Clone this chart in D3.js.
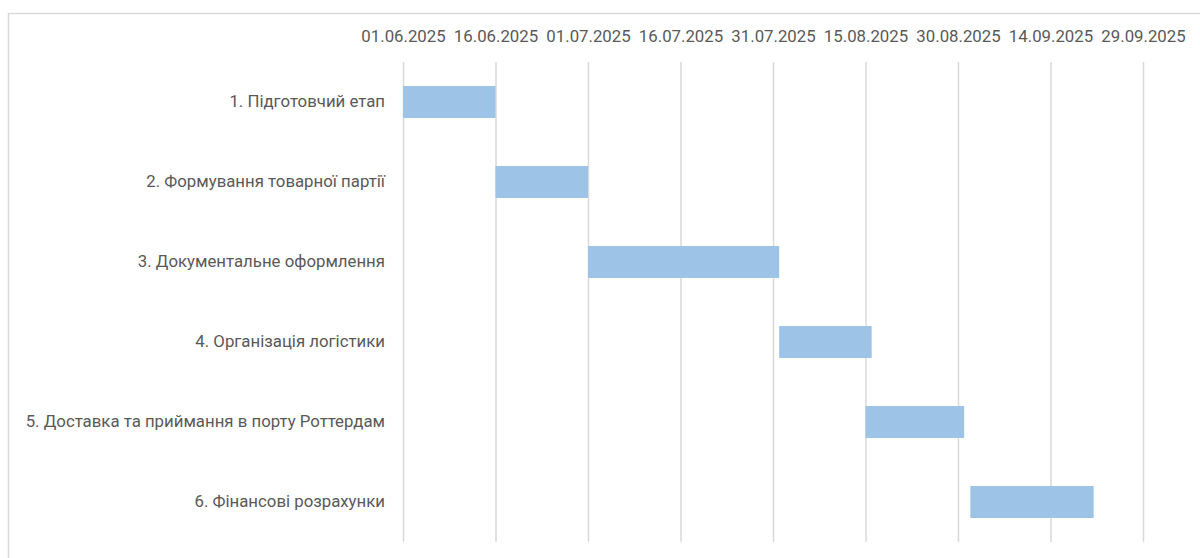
<!DOCTYPE html>
<html>
<head>
<meta charset="utf-8">
<script src="https://cdn.jsdelivr.net/npm/d3@7"></script>
<style>
  body { margin: 0; background: #fff; }
  text { font-family: Roboto, "Noto Sans", sans-serif; fill: #595959; }
</style>
</head>
<body>
<div id="chart-area"></div>
<script>
// tasks and their dates
var tasks = [
    "1. Підготовчий етап",
    "2. Формування товарної партії",
    "3. Документальне оформлення",
    "4. Організація логістики",
    "5. Доставка та приймання в порту Роттердам",
    "6. Фінансові розрахунки"
];
var startDates = ["01.06.2025", "16.06.2025", "01.07.2025", "01.08.2025", "15.08.2025", "01.09.2025"];
var endDates   = ["16.06.2025", "01.07.2025", "01.08.2025", "16.08.2025", "31.08.2025", "21.09.2025"];
var tickLabels = ["01.06.2025", "16.06.2025", "01.07.2025", "16.07.2025", "31.07.2025",
                  "15.08.2025", "30.08.2025", "14.09.2025", "29.09.2025"];

var W = 1200, H = 558;
var margin = {top: 62, left: 403, right: 57, bottom: 16};
var width = W - margin.left - margin.right;
var height = H - margin.top - margin.bottom;

var parse = d3.utcParse("%d.%m.%Y");
var fmt = d3.utcFormat("%d.%m.%Y");

var data = tasks.map((t, i) => {
    return {task: t, start: parse(startDates[i]), end: parse(endDates[i])};
});
var ticks = tickLabels.map(parse);

var svg = d3.select('#chart-area')
    .append('svg')
        .attr('width', W)
        .attr('height', H);

// chart border
svg.append("rect")
    .attr("x", 8.5)
    .attr("y", 13.5)
    .attr("width", W)
    .attr("height", H)
    .attr("fill", "none")
    .attr("stroke", "#d9d9d9")
    .attr("stroke-width", 1.5);

var g = svg.append("g")
    .attr("transform", "translate(" + margin.left + ", " + margin.top + ")");

var x = d3.scaleUtc()
    .domain([ticks[0], ticks[ticks.length - 1]])
    .range([0, width]);

var y = d3.scaleBand()
    .domain(tasks)
    .range([0, height])
    .paddingInner(0.6)
    .paddingOuter(0.3);

// gridlines
g.append("g")
    .attr("class", "grid")
    .call(d3.axisTop(x).tickValues(ticks).tickSize(-height).tickFormat(""))
    .call(s => s.select(".domain").remove())
    .call(s => s.selectAll("line").attr("stroke", "#d9d9d9").attr("stroke-width", 1.5));

// top axis labels
g.append("g")
    .attr("class", "top axis")
    .attr("transform", "translate(0, -17)")
    .call(d3.axisTop(x).tickValues(ticks).tickSize(0).tickFormat(fmt))
    .call(s => s.select(".domain").remove())
    .selectAll("text")
    .attr("font-size", "16.8px")
    .attr("fill", "#595959");

// category labels
g.append("g")
    .attr("class", "left axis")
    .call(d3.axisLeft(y).tickSize(0).tickPadding(18))
    .call(s => s.select(".domain").remove())
    .selectAll("text")
    .attr("font-size", "16.8px")
    .attr("fill", "#595959");

g.selectAll("rect.bar").data(data)
    .enter()
    .append("rect")
    .attr("class", "bar")
    .attr("x", (d) => { return x(d.start); })
    .attr("y", (d) => { return y(d.task); })
    .attr("width", (d) => { return x(d.end) - x(d.start); })
    .attr("height", y.bandwidth())
    .attr("fill", "#9dc3e6");
</script>
</body>
</html>
